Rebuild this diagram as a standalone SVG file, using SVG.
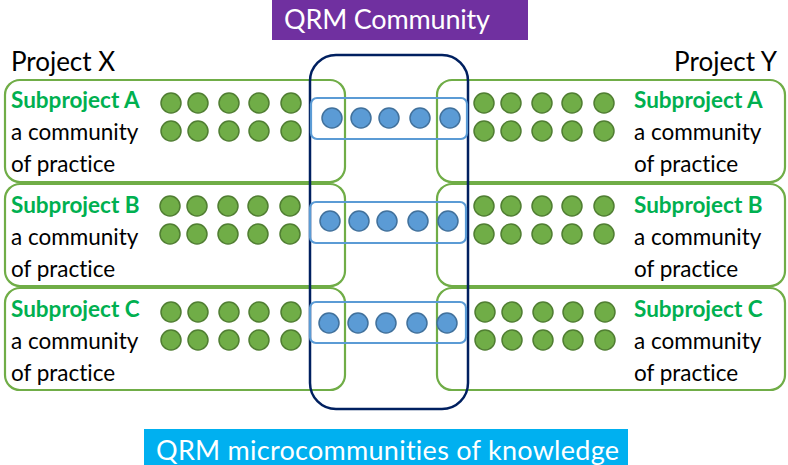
<svg xmlns="http://www.w3.org/2000/svg" width="788" height="465" viewBox="0 0 788 465">
  <style>
    text { font-family: Lato, "Open Sans", "Liberation Sans", sans-serif; font-variant-ligatures: none; }
    .box { fill: none; stroke: #70AD47; stroke-width: 2.2; }
    .core { fill: none; stroke: #002060; stroke-width: 2.5; }
    .band { fill: none; stroke: #5B9BD5; stroke-width: 2.2; }
    .g { fill: #70AD47; stroke: #507E32; stroke-width: 1.5; }
    .b { fill: #5B9BD5; stroke: #41719C; stroke-width: 1.5; }
    .title { font-size: 22.5px; font-weight: bold; fill: #00B050; }
    .body { font-size: 22.5px; fill: #000; }
    .proj { font-size: 26px; fill: #000; }
    .banner { font-size: 27px; fill: #fff; }
  </style>
  <defs>
    <g id="row">
      <circle class="g" cx="0" cy="0" r="10"/>
      <circle class="g" cx="27" cy="0" r="10"/>
      <circle class="g" cx="58" cy="0" r="10"/>
      <circle class="g" cx="88" cy="0" r="10"/>
      <circle class="g" cx="120" cy="0" r="10"/>
    </g>
    <g id="pair">
      <use href="#row" y="0"/>
      <use href="#row" y="28"/>
    </g>
    <g id="bluerow">
      <circle class="b" cx="0" cy="0" r="10"/>
      <circle class="b" cx="29" cy="0" r="10"/>
      <circle class="b" cx="57" cy="0" r="10"/>
      <circle class="b" cx="88" cy="0" r="10"/>
      <circle class="b" cx="118" cy="0" r="10"/>
    </g>
  </defs>

  <!-- headers -->
  <g id="qrm-community">
    <rect x="272" y="0" width="256" height="40" fill="#7030A0"/>
    <text class="banner" x="284" y="29" textLength="206">QRM Community</text>
  </g>
  <g id="project-x">
    <text class="proj" x="11" y="71" textLength="104">Project X</text>
  </g>
  <g id="project-y">
    <text class="proj" x="674" y="71" textLength="103">Project Y</text>
  </g>

  <!-- Project X subprojects -->
  <g id="x-sub-a">
    <rect class="box" x="5" y="80" width="340" height="102" rx="15"/>
    <text class="title" x="11" y="108">Subproject A</text>
    <text class="body" x="11" y="140">a community</text>
    <text class="body" x="11" y="172">of practice</text>
    <use href="#pair" x="171" y="103"/>
  </g>
  <g id="x-sub-b">
    <rect class="box" x="5" y="184" width="340" height="102" rx="15"/>
    <text class="title" x="11" y="213">Subproject B</text>
    <text class="body" x="11" y="245">a community</text>
    <text class="body" x="11" y="277">of practice</text>
    <use href="#pair" x="170" y="206"/>
  </g>
  <g id="x-sub-c">
    <rect class="box" x="5" y="288" width="340" height="102" rx="15"/>
    <text class="title" x="11" y="317">Subproject C</text>
    <text class="body" x="11" y="349">a community</text>
    <text class="body" x="11" y="381">of practice</text>
    <use href="#pair" x="171" y="312"/>
  </g>

  <!-- Project Y subprojects -->
  <g id="y-sub-a">
    <rect class="box" x="437" y="80" width="348" height="102" rx="15"/>
    <text class="title" x="634" y="108">Subproject A</text>
    <text class="body" x="634" y="140">a community</text>
    <text class="body" x="634" y="172">of practice</text>
    <use href="#pair" x="484" y="103"/>
  </g>
  <g id="y-sub-b">
    <rect class="box" x="437" y="184" width="348" height="102" rx="15"/>
    <text class="title" x="634" y="213">Subproject B</text>
    <text class="body" x="634" y="245">a community</text>
    <text class="body" x="634" y="277">of practice</text>
    <use href="#pair" x="484" y="206"/>
  </g>
  <g id="y-sub-c">
    <rect class="box" x="437" y="288" width="348" height="102" rx="15"/>
    <text class="title" x="634" y="317">Subproject C</text>
    <text class="body" x="634" y="349">a community</text>
    <text class="body" x="634" y="381">of practice</text>
    <use href="#pair" x="485" y="312"/>
  </g>

  <!-- shared QRM core spanning both projects -->
  <g id="qrm-core">
    <rect class="core" x="310" y="55" width="158" height="354" rx="26"/>
  </g>

  <!-- microcommunities -->
  <g id="micro-a">
    <rect class="band" x="311" y="98" width="156" height="41" rx="6"/>
    <use href="#bluerow" x="332" y="118"/>
  </g>
  <g id="micro-b">
    <rect class="band" x="310" y="202" width="156" height="41" rx="6"/>
    <use href="#bluerow" x="330" y="221"/>
  </g>
  <g id="micro-c">
    <rect class="band" x="310" y="302" width="156" height="41" rx="6"/>
    <use href="#bluerow" x="329" y="323"/>
  </g>

  <g id="qrm-micro">
    <rect x="144" y="429" width="484" height="36" fill="#00B0F0"/>
    <text class="banner" x="156" y="460" textLength="463">QRM microcommunities of knowledge</text>
  </g>
</svg>
